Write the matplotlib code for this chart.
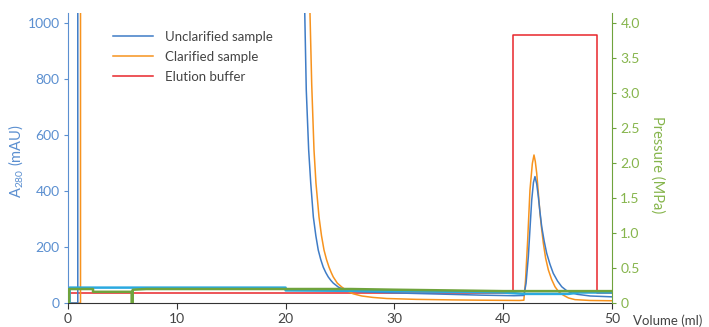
import matplotlib
matplotlib.use("Agg")
import matplotlib.pyplot as plt
from matplotlib.ticker import FuncFormatter

# A280 traces (mAU), volume in ml
unclar_vol = [0, 0.9, 0.9, 21.6, 21.76, 21.9, 22.12, 22.31, 22.55, 22.78, 23.0, 23.23, 23.46, 23.7, 23.92,
              24.15, 24.38, 24.84, 25.16, 25.6, 26, 27, 30, 35, 38, 41.0, 41.9,
              42.1, 42.31, 42.47, 42.62, 42.78, 42.92, 43.08, 43.23, 43.38, 43.54, 43.77, 44.0, 44.3,
              44.6, 45.0, 45.38, 45.8, 46.14, 46.8, 48, 50]
unclar_a280 = [0, 0, 2000, 2000, 1036, 760, 546, 428, 307, 240, 189, 155, 128, 108, 93,
               81, 71, 57, 51, 46, 43, 40, 36, 31, 28, 26, 27,
               70, 165, 270, 367, 430, 451, 425, 379, 325, 272, 220, 177, 138,
               106, 78, 58, 45, 38, 31, 25, 22]

clar_vol = [0, 1.15, 1.15, 22.05, 22.24, 22.4, 22.61, 22.79, 23.07, 23.3, 23.53, 23.76, 23.99, 24.2,
            24.38, 24.75, 25.16, 25.6, 26.2, 27, 28, 29.3, 32, 35.4, 38, 41.5, 41.9,
            42.05, 42.25, 42.46, 42.68, 42.83, 42.95, 43.08, 43.23, 43.38, 43.54, 43.69, 43.9,
            44.15, 44.45, 44.76, 45.1, 45.52, 46.0, 46.6, 48, 50]
clar_a280 = [0, 0, 2000, 2000, 1036, 780, 546, 428, 307, 240, 189, 155, 128, 108,
             93, 71, 57, 45, 33, 25, 20, 16, 13, 11, 10, 9, 10,
             80, 225, 403, 498, 528, 505, 463, 392, 320, 262, 213, 160,
             118, 84, 58, 40, 28, 18, 12, 9, 8]

# elution buffer step (drawn on the A280 scale)
buffer_vol = [0.3, 40.9, 40.9, 48.6, 48.6, 50]
buffer_lvl = [37, 37, 957, 957, 37, 37]

# pressure traces (MPa)
press_g_vol = [0, 0.1, 0.1, 2.3, 2.3, 5.85, 5.85, 5.95, 5.95, 7.2, 20, 26, 30, 40, 50]
press_g = [0, 0, 0.2, 0.2, 0.16, 0.16, 0, 0, 0.19, 0.2, 0.2, 0.2, 0.19, 0.17, 0.17]
press_c_vol = [0, 0.15, 0.15, 20, 20, 30, 40, 42, 46, 47, 50]
press_c = [0, 0, 0.22, 0.22, 0.18, 0.17, 0.15, 0.13, 0.13, 0.15, 0.15]

x_ticks = [0, 10, 20, 30, 40, 50]
a280_ticks = [0, 200, 400, 600, 800, 1000]
press_ticks = [0, 0.5, 1.0, 1.5, 2.0, 2.5, 3.0, 3.5, 4.0]

c_blue = "#3f7cc6"
c_orange = "#f7931e"
c_red = "#e8262b"
c_green = "#6fa33c"
c_cyan = "#2aa9e0"
c_lblue = "#5b8fd0"
c_lgreen = "#86b54c"
c_text = "#444444"

plt.rcParams["font.family"] = ["Lato", "DejaVu Sans"]
plt.rcParams["font.size"] = 10

fig = plt.figure(figsize=(7.09, 3.27), dpi=100)
ax = fig.add_axes([68 / 709, 1 - 303 / 327, 544 / 709, 290 / 327])
ax2 = ax.twinx()

ax.plot(unclar_vol, unclar_a280, color=c_blue, lw=1.1, label="Unclarified sample", zorder=3)
ax.plot(clar_vol, clar_a280, color=c_orange, lw=1.1, label="Clarified sample", zorder=2)
ax.plot(buffer_vol, buffer_lvl, color=c_red, lw=1.1, label="Elution buffer", zorder=1)

ax2.plot(press_c_vol, press_c, color=c_cyan, lw=1.8)
ax2.plot(press_g_vol, press_g, color=c_green, lw=1.8)

ax.set_xlim(0, 50)
ax.set_ylim(0, 1034.6)
ax2.set_ylim(0, 4.148)
ax.set_xticks(x_ticks)
ax.set_yticks(a280_ticks)
ax2.set_yticks(press_ticks)
ax2.yaxis.set_major_formatter(FuncFormatter(lambda v, p: "0" if v == 0 else f"{v:.1f}"))

for a in (ax, ax2):
    a.spines["top"].set_visible(False)
ax.spines["left"].set_color(c_lblue)
ax.spines["right"].set_visible(False)
ax2.spines["left"].set_visible(False)
ax2.spines["bottom"].set_visible(False)
ax2.spines["right"].set_color(c_green)
ax.spines["bottom"].set_color("#333333")

ax.tick_params(axis="x", colors="#333333", labelcolor=c_text, length=4, width=0.8, pad=3)
ax.tick_params(axis="y", colors=c_lblue, labelcolor=c_lblue, length=3, width=0.8, pad=3)
ax2.tick_params(axis="y", colors=c_green, labelcolor=c_lgreen, length=3, width=0.8, pad=3)

fig.text(16 / 709, 1 - 161 / 327, "A$_{\\mathregular{280}}$ (mAU)", rotation=90,
         ha="center", va="center", color=c_lblue, fontsize=10.5)
fig.text(657 / 709, 1 - 165 / 327, "Pressure (MPa)", rotation=270,
         ha="center", va="center", color=c_lgreen, fontsize=10.5)
fig.text(633 / 709, 1 - 321 / 327, "Volume (ml)", ha="left", va="center",
         color=c_text, fontsize=9.5)

leg = ax.legend(loc="upper left", bbox_to_anchor=(113 / 709, 1 - 31 / 327),
                bbox_transform=fig.transFigure, frameon=False, borderpad=0,
                borderaxespad=0, handlelength=3.05, handletextpad=0.9,
                labelspacing=0.6, fontsize=9.5)
for t in leg.get_texts():
    t.set_color(c_text)

fig.savefig("out.png", dpi=100)
